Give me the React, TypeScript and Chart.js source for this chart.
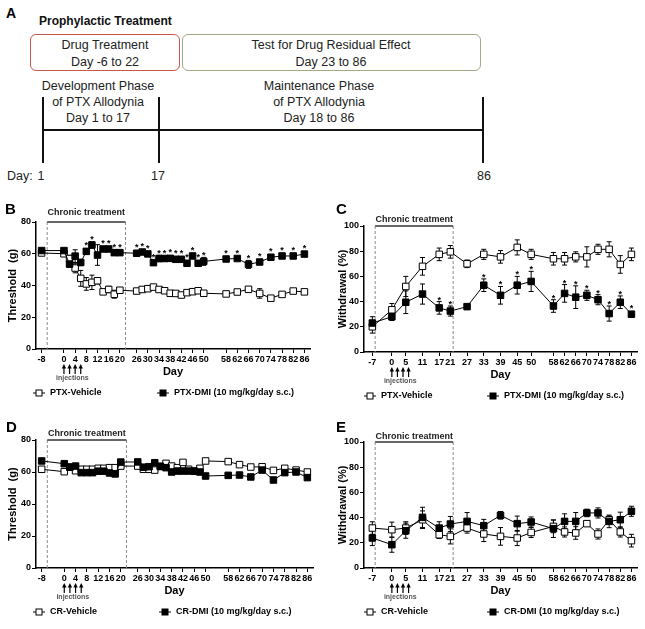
import React, { useEffect, useRef } from "react";
import { Chart, registerables } from "chart.js";
Chart.register(...registerables);

const FONT = "'Liberation Sans', Arial, Helvetica, sans-serif";

// ---------- data ----------
const B_DAYS = [-8, 0, 2, 4, 6, 8, 10, 12, 14, 16, 18, 20, 26, 28, 30, 32, 34, 36, 38, 40, 42, 44, 46, 48, 50, 58, 62, 66, 70, 74, 78, 82, 86];
const B_TICKS = [-8, 0, 4, 8, 12, 16, 20, 26, 30, 34, 38, 42, 46, 50, 58, 62, 66, 70, 74, 78, 82, 86];
const C_DAYS = [-7, 0, 5, 11, 17, 21, 27, 33, 39, 45, 50, 58, 62, 66, 70, 74, 78, 82, 86];
const C_TICKS = [-7, 0, 5, 11, 17, 21, 27, 33, 39, 45, 50, 58, 62, 66, 70, 74, 78, 82, 86];
const INJECTION_DAYS = [0, 2, 4, 6];
const TREATMENT_WINDOW = [-6, 22];

// Panel B: threshold (g), PTX
const B_VEH = [60.5, 60, 57, 51, 44.5, 41, 42, 43, 36, 37.5, 34.5, 37, 36.5, 37.5, 38, 39, 37.5, 36.7, 35.1, 35, 34, 35.5, 36.1, 36.7, 35.1, 34.7, 35.9, 37.6, 35, 32, 34.4, 36.5, 36];
const B_VEH_ERR = [1, 1.5, 2, 3, 5, 4, 4.5, 2, 1.5, 2, 2.5, 1.5, 1, 1, 1, 1, 1, 1, 1, 1, 1, 1, 1, 1, 1, 1, 1.5, 1.5, 3, 1, 1, 1, 1];
const B_DMI = [62, 62, 53.5, 58.5, 54.5, 61.5, 65.5, 59.2, 63, 63, 60.7, 60.7, 60.3, 61.1, 59.9, 54.4, 57, 57, 57.1, 56.5, 56.5, 54, 58.6, 54, 55.2, 56.7, 57, 53.3, 54.8, 57.8, 58.6, 58.6, 59.8];
const B_DMI_ERR = [1, 1, 2, 4, 2, 1.5, 2, 6.5, 1.5, 1.5, 1.5, 1, 1, 1.5, 1.5, 1.5, 2, 1.5, 1, 1, 1, 1, 1.5, 1, 2.5, 1, 1, 2.5, 1, 1, 1, 1, 1];
const B_STARS = [8, 10, 14, 16, 18, 20, 26, 28, 30, 32, 34, 36, 38, 40, 42, 44, 46, 48, 50, 58, 62, 66, 70, 74, 78, 82, 86];

// Panel C: withdrawal (%), PTX
const C_VEH = [20, 33.5, 52, 68, 77.5, 79.5, 70, 77.5, 75.5, 83, 77.5, 74, 74, 75.5, 75.5, 81.5, 81.5, 69.5, 77.5];
const C_VEH_ERR = [5, 5, 8, 7, 5, 5, 3, 4, 5, 6, 4, 5, 5, 4, 8, 4, 6, 7, 5];
const C_DMI = [23, 28, 39.5, 46, 35, 32.5, 36, 53, 45, 53, 56, 36.5, 46.5, 43.5, 45, 41.5, 30.5, 39.5, 30];
const C_DMI_ERR = [5, 3, 9, 8, 5, 4, 2, 5, 7, 7, 8, 5, 7, 9, 4, 4, 6, 5, 2];
const C_STARS = [17, 21, 33, 39, 45, 50, 58, 62, 66, 70, 74, 78, 82, 86];

// Panel D: threshold (g), CR
const D_VEH = [61.7, 60.2, 63.1, 60.8, 61.7, 61.7, 61.7, 62.3, 62.3, 62.7, 62.7, 63.7, 63.7, 61.7, 61.7, 61.2, 63.5, 65.4, 63.7, 62.7, 66, 61.7, 60.6, 62.3, 66.9, 66.5, 64.6, 63.1, 63.3, 61, 62.3, 61.2, 60];
const D_VEH_ERR = [1.5, 1, 1, 1.5, 1, 1, 1, 1, 1, 1, 1, 1, 1.5, 1, 1, 1.5, 1, 1, 1, 1, 1, 1, 1, 1, 1, 1, 1, 1, 1.5, 1, 1, 1, 1];
const D_DMI = [66.9, 65.2, 63, 63.7, 59.6, 59.6, 59.6, 60.5, 60.5, 59.4, 58.8, 66.2, 66.3, 63, 63.3, 65.8, 63.5, 62.7, 60, 60.6, 60.6, 60.6, 60.5, 60, 57.5, 57.9, 58.1, 56.9, 61.2, 55, 59.6, 60, 56.5];
const D_DMI_ERR = [1.5, 1, 1, 1.5, 1, 1, 1, 1, 1, 1.5, 1.5, 1, 1, 1, 1, 1, 1, 1, 1, 1, 1, 1, 1, 1, 1.5, 1, 1, 1.5, 1.5, 1.5, 1, 1, 1];

// Panel E: withdrawal (%), CR
const E_VEH = [31.7, 30.4, 31.7, 38.3, 26.4, 25.1, 31.7, 27, 25.1, 23.8, 28.2, 33, 28.6, 27.8, 35.2, 27, 38.3, 28.6, 21.7];
const E_VEH_ERR = [5, 6, 5, 7, 3, 6, 4, 6, 7, 6, 4, 5, 4, 5, 2, 4, 3, 4, 5];
const E_DMI = [23.8, 18.5, 29.6, 40.2, 31.7, 34.9, 37, 33.6, 41.8, 35.2, 36.5, 31.2, 37, 37, 43.7, 43.7, 37, 38.3, 45];
const E_DMI_ERR = [6, 6, 6, 8, 5, 6, 7, 5, 3, 6, 4, 7, 6, 7, 3, 4, 5, 6, 4];

type Spec = {
  left: number; top: number; width: number; height: number;
  padTop: number; padRight: number; yWidth: number; xHeight: number;
  yMax: number; yTitle: string; yTitleX: number;
  days: number[]; ticks: number[];
  veh: number[]; vehErr: number[]; dmi: number[]; dmiErr: number[]; stars: number[];
  vehLabel: string; dmiLabel: string;
  chronicDy: number;
  leg1: number; leg2: number;
};

const SPECS: Spec[] = [
  {
    left: 0, top: 198, width: 320, height: 217, padTop: 24, padRight: 10, yWidth: 36, xHeight: 66,
    yMax: 80, yTitle: "Threshold  (g)", yTitleX: 12.5, days: B_DAYS, ticks: B_TICKS,
    veh: B_VEH, vehErr: B_VEH_ERR, dmi: B_DMI, dmiErr: B_DMI_ERR, stars: B_STARS,
    vehLabel: "PTX-Vehicle", dmiLabel: "PTX-DMI (10 mg/kg/day s.c.)", chronicDy: 9, leg1: 39, leg2: 163,
  },
  {
    left: 320, top: 198, width: 325, height: 217, padTop: 28, padRight: 8, yWidth: 44, xHeight: 63,
    yMax: 100, yTitle: "Withdrawal (%)", yTitleX: 23, days: C_DAYS, ticks: C_TICKS,
    veh: C_VEH, vehErr: C_VEH_ERR, dmi: C_DMI, dmiErr: C_DMI_ERR, stars: C_STARS,
    vehLabel: "PTX-Vehicle", dmiLabel: "PTX-DMI (10 mg/kg/day s.c.)", chronicDy: 6, leg1: 50, leg2: 173,
  },
  {
    left: 0, top: 415, width: 320, height: 214, padTop: 25, padRight: 7, yWidth: 36, xHeight: 61,
    yMax: 80, yTitle: "Threshold  (g)", yTitleX: 12.5, days: B_DAYS, ticks: B_TICKS,
    veh: D_VEH, vehErr: D_VEH_ERR, dmi: D_DMI, dmiErr: D_DMI_ERR, stars: [],
    vehLabel: "CR-Vehicle", dmiLabel: "CR-DMI (10 mg/kg/day s.c.)", chronicDy: 6, leg1: 39, leg2: 165,
  },
  {
    left: 320, top: 415, width: 325, height: 214, padTop: 27, padRight: 8, yWidth: 44, xHeight: 61,
    yMax: 100, yTitle: "Withdrawal (%)", yTitleX: 23, days: C_DAYS, ticks: C_TICKS,
    veh: E_VEH, vehErr: E_VEH_ERR, dmi: E_DMI, dmiErr: E_DMI_ERR, stars: [],
    vehLabel: "CR-Vehicle", dmiLabel: "CR-DMI (10 mg/kg/day s.c.)", chronicDy: 5, leg1: 50, leg2: 173,
  },
];

function legendItem(ctx: CanvasRenderingContext2D, cx: number, cy: number, filled: boolean, label: string) {
  ctx.strokeStyle = "#000";
  ctx.lineWidth = 1;
  ctx.beginPath();
  ctx.moveTo(cx - 6, cy);
  ctx.lineTo(cx + 6, cy);
  ctx.stroke();
  ctx.fillStyle = filled ? "#000" : "#fff";
  ctx.fillRect(cx - 3, cy - 3, 6, 6);
  ctx.strokeRect(cx - 3, cy - 3, 6, 6);
  ctx.fillStyle = "#000";
  ctx.textAlign = "left";
  ctx.textBaseline = "middle";
  ctx.font = `bold 9px ${FONT}`;
  ctx.fillText(label, cx + 11, cy);
}

function makePlugin(spec: Spec) {
  return {
    id: "decor",
    beforeDatasetsDraw(chart: any) {
      const { ctx, chartArea: ca, scales } = chart;
      const x = scales.x, y = scales.y;
      ctx.save();
      const x0 = x.getPixelForValue(TREATMENT_WINDOW[0]);
      const x1 = x.getPixelForValue(TREATMENT_WINDOW[1]);
      ctx.strokeStyle = "#8a8a8a";
      ctx.lineWidth = 1;
      ctx.setLineDash([3, 2]);
      [x0, x1].forEach((px) => {
        ctx.beginPath();
        ctx.moveTo(px, ca.top);
        ctx.lineTo(px, ca.bottom);
        ctx.stroke();
      });
      ctx.setLineDash([]);
      ctx.strokeStyle = "#333";
      ctx.lineWidth = 1.3;
      ctx.beginPath();
      ctx.moveTo(x0, ca.top);
      ctx.lineTo(x1, ca.top);
      ctx.stroke();
      ctx.fillStyle = "#222";
      ctx.font = `bold 9px ${FONT}`;
      ctx.textAlign = "center";
      ctx.textBaseline = "middle";
      ctx.fillText("Chronic treatment", (x0 + x1) / 2, ca.top - spec.chronicDy);
      // error bars
      ctx.strokeStyle = "#000";
      ctx.lineWidth = 1;
      const drawErr = (vals: number[], errs: number[]) => {
        spec.days.forEach((d, i) => {
          const px = x.getPixelForValue(d);
          const yt = y.getPixelForValue(vals[i] + errs[i]);
          const yb = y.getPixelForValue(vals[i] - errs[i]);
          ctx.beginPath();
          ctx.moveTo(px, yt);
          ctx.lineTo(px, yb);
          ctx.moveTo(px - 2.5, yt);
          ctx.lineTo(px + 2.5, yt);
          ctx.moveTo(px - 2.5, yb);
          ctx.lineTo(px + 2.5, yb);
          ctx.stroke();
        });
      };
      drawErr(spec.veh, spec.vehErr);
      drawErr(spec.dmi, spec.dmiErr);
      ctx.restore();
    },
    afterDatasetsDraw(chart: any) {
      const { ctx, scales } = chart;
      const x = scales.x, y = scales.y;
      ctx.save();
      ctx.fillStyle = "#000";
      ctx.font = `bold 9px ${FONT}`;
      ctx.textAlign = "center";
      ctx.textBaseline = "alphabetic";
      spec.stars.forEach((d) => {
        const i = spec.days.indexOf(d);
        if (i < 0) return;
        const px = x.getPixelForValue(d);
        const top = Math.min(y.getPixelForValue(spec.dmi[i] + spec.dmiErr[i]), y.getPixelForValue(spec.dmi[i]) - 4);
        ctx.fillText("*", px, top + 1);
      });
      ctx.restore();
    },
    afterDraw(chart: any) {
      const { ctx, chartArea: ca, scales } = chart;
      const x = scales.x;
      const cb = ca.bottom;
      ctx.save();
      // injection arrows
      ctx.strokeStyle = "#000";
      ctx.fillStyle = "#000";
      ctx.lineWidth = 1.2;
      INJECTION_DAYS.forEach((d) => {
        const px = x.getPixelForValue(d);
        ctx.beginPath();
        ctx.moveTo(px, cb + 25);
        ctx.lineTo(px, cb + 18);
        ctx.stroke();
        ctx.beginPath();
        ctx.moveTo(px, cb + 15);
        ctx.lineTo(px - 2.2, cb + 19.5);
        ctx.lineTo(px + 2.2, cb + 19.5);
        ctx.closePath();
        ctx.fill();
      });
      const mid = (x.getPixelForValue(INJECTION_DAYS[0]) + x.getPixelForValue(INJECTION_DAYS[INJECTION_DAYS.length - 1])) / 2;
      ctx.fillStyle = "#555";
      ctx.font = `bold 7px ${FONT}`;
      ctx.textAlign = "center";
      ctx.textBaseline = "middle";
      ctx.fillText("injections", mid, cb + 29.5);
      // x title
      ctx.fillStyle = "#000";
      ctx.font = `bold 11px ${FONT}`;
      ctx.fillText("Day", (ca.left + ca.right) / 2, cb + 22.5);
      // y title
      ctx.save();
      ctx.translate(spec.yTitleX, (ca.top + ca.bottom) / 2);
      ctx.rotate(-Math.PI / 2);
      ctx.font = `bold 11px ${FONT}`;
      ctx.fillText(spec.yTitle, 0, 0);
      ctx.restore();
      // legend
      legendItem(ctx, spec.leg1, cb + 44, false, spec.vehLabel);
      legendItem(ctx, spec.leg2, cb + 44, true, spec.dmiLabel);
      ctx.restore();
    },
  };
}

function Panel({ spec }: { spec: Spec }) {
  const ref = useRef<HTMLCanvasElement | null>(null);
  useEffect(() => {
    if (!ref.current) return;
    const tickFont = { family: FONT, size: 9, weight: "bold" as const };
    const ds = (vals: number[], filled: boolean) => ({
      data: spec.days.map((d, i) => ({ x: d, y: vals[i] })),
      showLine: true,
      borderColor: "#000",
      borderWidth: 1,
      pointStyle: "rect",
      pointRadius: 4.6,
      pointBackgroundColor: filled ? "#000" : "#fff",
      pointBorderColor: "#000",
      pointBorderWidth: 1,
      tension: 0,
    });
    const chart = new Chart(ref.current, {
      type: "scatter",
      data: { datasets: [ds(spec.dmi, true), ds(spec.veh, false)] as any },
      options: {
        animation: false,
        responsive: false,
        maintainAspectRatio: false,
        events: [],
        layout: { padding: { top: spec.padTop, right: spec.padRight, left: 0, bottom: 0 } },
        plugins: { legend: { display: false }, tooltip: { enabled: false } },
        scales: {
          x: {
            type: "linear",
            min: -10,
            max: 88,
            afterBuildTicks: (s: any) => {
              s.ticks = spec.ticks.map((v) => ({ value: v }));
            },
            afterFit: (s: any) => {
              s.height = spec.xHeight;
            },
            ticks: {
              autoSkip: false,
              maxRotation: 0,
              minRotation: 0,
              padding: 1,
              color: "#000",
              font: tickFont,
              callback: (v: any) => String(v),
            },
            grid: { drawOnChartArea: false, drawTicks: true, tickLength: 4, color: "#000", lineWidth: 1 },
            border: { display: true, color: "#000", width: 1.5 },
          },
          y: {
            type: "linear",
            min: 0,
            max: spec.yMax,
            afterFit: (s: any) => {
              s.width = spec.yWidth;
            },
            ticks: { stepSize: 20, padding: 1, color: "#000", font: tickFont },
            grid: { drawOnChartArea: false, drawTicks: true, tickLength: 4, color: "#000", lineWidth: 1 },
            border: { display: true, color: "#000", width: 1.5 },
          },
        },
      } as any,
      plugins: [makePlugin(spec) as any],
    });
    return () => chart.destroy();
  }, [spec]);
  return (
    <canvas
      ref={ref}
      width={spec.width}
      height={spec.height}
      style={{ position: "absolute", left: spec.left, top: spec.top, width: spec.width, height: spec.height }}
    />
  );
}

const abs = (s: React.CSSProperties): React.CSSProperties => ({ position: "absolute", ...s });
const txt: React.CSSProperties = { fontFamily: FONT, color: "#222", whiteSpace: "nowrap" };

function Centered({ x, y, children, size = 12.5, bold = false }: any) {
  return (
    <div
      style={abs({
        ...txt,
        left: x,
        top: y,
        transform: "translate(-50%, -50%)",
        fontSize: size,
        fontWeight: bold ? "bold" : "normal",
        lineHeight: 1,
      })}
    >
      {children}
    </div>
  );
}

function PanelA() {
  return (
    <>
      <div style={abs({ ...txt, left: 6, top: 5, fontSize: 14, fontWeight: "bold", color: "#000" })}>A</div>
      <div style={abs({ ...txt, left: 39, top: 14, fontSize: 12, fontWeight: "bold", color: "#111" })}>Prophylactic Treatment</div>
      <div style={abs({ left: 30, top: 34, width: 148, height: 35, border: "1.5px solid #c8574d", borderRadius: 6 })} />
      <div style={abs({ left: 182, top: 34, width: 297, height: 35, border: "1.5px solid #a3a985", borderRadius: 6 })} />
      <Centered x={105} y={45}>Drug Treatment</Centered>
      <Centered x={105} y={62}>Day -6 to 22</Centered>
      <Centered x={331} y={45}>Test for Drug Residual Effect</Centered>
      <Centered x={331} y={62}>Day 23 to 86</Centered>
      <Centered x={98} y={86}>Development Phase</Centered>
      <Centered x={98} y={101.5}>of PTX Allodynia</Centered>
      <Centered x={98} y={117.5}>Day 1 to 17</Centered>
      <Centered x={319} y={86}>Maintenance Phase</Centered>
      <Centered x={319} y={101.5}>of PTX Allodynia</Centered>
      <Centered x={319} y={117.5}>Day 18 to 86</Centered>
      <div style={abs({ left: 42, top: 97, width: 1.6, height: 66, background: "#111" })} />
      <div style={abs({ left: 158, top: 97, width: 1.6, height: 66, background: "#111" })} />
      <div style={abs({ left: 482, top: 97, width: 1.6, height: 66, background: "#111" })} />
      <div style={abs({ left: 42, top: 129, width: 441, height: 1.6, background: "#111" })} />
      <div style={abs({ ...txt, left: 7, top: 169, fontSize: 12.5 })}>Day:</div>
      <Centered x={41} y={176}>1</Centered>
      <Centered x={158} y={176}>17</Centered>
      <Centered x={484} y={176}>86</Centered>
    </>
  );
}

export default function App() {
  return (
    <div style={abs({ left: 0, top: 0, width: 645, height: 629, background: "#fff", overflow: "hidden" })}>
      <PanelA />
      {SPECS.map((s, i) => (
        <Panel key={i} spec={s} />
      ))}
      <div style={abs({ ...txt, left: 5, top: 200, fontSize: 15, fontWeight: "bold", color: "#000" })}>B</div>
      <div style={abs({ ...txt, left: 336, top: 200, fontSize: 15, fontWeight: "bold", color: "#000" })}>C</div>
      <div style={abs({ ...txt, left: 6, top: 418, fontSize: 15, fontWeight: "bold", color: "#000" })}>D</div>
      <div style={abs({ ...txt, left: 336, top: 418, fontSize: 15, fontWeight: "bold", color: "#000" })}>E</div>
    </div>
  );
}
